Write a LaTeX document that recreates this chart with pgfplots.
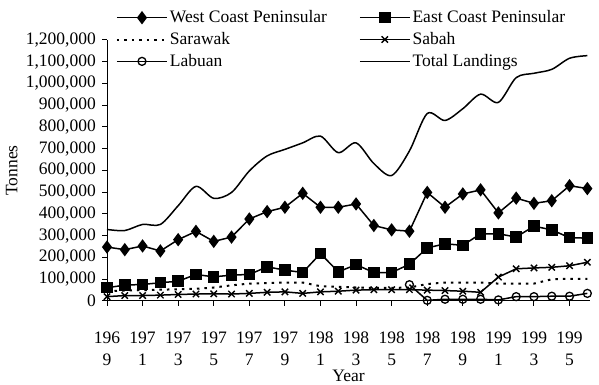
\documentclass[border=0pt]{standalone}
\usepackage{fontspec}
\setmainfont{Liberation Serif}
\usepackage{pgfplots}
\pgfplotsset{compat=1.18}
\begin{document}
\fontsize{18}{22}\selectfont
\begin{tikzpicture}
\path[use as bounding box] (0,0) rectangle (599pt,385pt);
\begin{axis}[
  at={(107pt,84pt)}, anchor=south west,
  scale only axis, width=483pt, height=261pt,
  xmin=1969, xmax=1996.15, ymin=0, ymax=1200000,
  axis x line*=bottom, axis y line*=left,
  axis line style={-, line width=1pt},
  tick align=outside, major tick length=5pt,
  tick style={black, line width=1pt},
  ytick={0,100000,200000,300000,400000,500000,600000,700000,800000,900000,1000000,1100000,1200000},
  scaled y ticks=false,
  yticklabel style={/pgf/number format/.cd, fixed, 1000 sep={,}, assume math mode=true},
  xtick={1969,1971,1973,1975,1977,1979,1981,1983,1985,1987,1989,1991,1993,1995},
  xticklabels={196\\9,197\\1,197\\3,197\\5,197\\7,197\\9,198\\1,198\\3,198\\5,198\\7,198\\9,199\\1,199\\3,199\\5},
  xticklabel style={align=center, anchor=north, inner sep=0pt, yshift=-26pt},
  every tick label/.append style={font=\fontsize{17.5}{22}\selectfont},
  xlabel={Year},
  xlabel style={at={(axis description cs:0.5,-0.288)}, anchor=center, inner sep=0pt, font=\fontsize{17.5}{22}\selectfont},
  ylabel={Tonnes},
  ylabel style={at={(axis description cs:-0.197,0.5)}, anchor=center, font=\fontsize{17.5}{22}\selectfont},
  legend columns=2,
  legend cell align=left,
  legend image code/.code={\draw[mark repeat=2,mark phase=2,#1] plot coordinates {(0pt,0pt) (25pt,0pt) (50pt,0pt)};},
  legend style={draw=none, fill=none, at={(axis description cs:0.012,1.13)}, anchor=north west,
    font=\fontsize{17.5}{21}\selectfont, row sep=3pt,
    /tikz/every even column/.append style={column sep=30pt}},
  clip=false,
]
\addplot[black, line width=1.5pt, mark=diamond*, mark size=5.5pt, mark options={solid}] coordinates {
(1969,248000)(1970,236000)(1971,253000)(1972,230000)(1973,282000)(1974,320000)(1975,274000)
(1976,294000)(1977,377000)(1978,411000)(1979,431000)(1980,495000)(1981,431000)(1982,431000)
(1983,446000)(1984,347000)(1985,327000)(1986,321000)(1987,499000)(1988,431000)(1989,492000)
(1990,511000)(1991,405000)(1992,473000)(1993,449000)(1994,461000)(1995,530000)(1996,517000)};
\addlegendentry{West Coast Peninsular}
\addplot[black, line width=1.5pt, mark=square*, mark size=5pt, mark options={solid}] coordinates {
(1969,61000)(1970,73000)(1971,76000)(1972,84000)(1973,91000)(1974,122000)(1975,111000)
(1976,119000)(1977,122000)(1978,157000)(1979,142000)(1980,131000)(1981,218000)(1982,134000)
(1983,167000)(1984,131000)(1985,131000)(1986,169000)(1987,244000)(1988,263000)(1989,256000)
(1990,309000)(1991,309000)(1992,294000)(1993,344000)(1994,327000)(1995,291000)(1996,289000)};
\addlegendentry{East Coast Peninsular}
\addplot[black, line width=2pt, dash pattern=on 2.5pt off 5pt] coordinates {
(1969,45000)(1970,48000)(1971,50000)(1972,52000)(1973,54000)(1974,56000)(1975,62000)
(1976,72000)(1977,80000)(1978,82000)(1979,85000)(1980,85000)(1981,68000)(1982,65000)
(1983,62000)(1984,60000)(1985,60000)(1986,62000)(1987,78000)(1988,85000)(1989,85000)
(1990,85000)(1991,80000)(1992,80000)(1993,80000)(1994,100000)(1995,102000)(1996,102000)};
\addlegendentry{Sarawak}
\addplot[black, line width=1.5pt, mark=x, mark size=4.5pt, mark options={solid, line width=1.4pt}] coordinates {
(1969,20000)(1970,25000)(1971,25000)(1972,27000)(1973,30000)(1974,32000)(1975,33000)
(1976,32000)(1977,35000)(1978,40000)(1979,42000)(1980,35000)(1981,42000)(1982,45000)
(1983,50000)(1984,52000)(1985,52000)(1986,52000)(1987,50000)(1988,48000)(1989,45000)
(1990,40000)(1991,110000)(1992,148000)(1993,152000)(1994,155000)(1995,162000)(1996,178000)};
\addlegendentry{Sabah}
\addplot[black, line width=1.5pt, mark=o, mark size=4pt, mark options={solid, line width=1.3pt}] coordinates {
(1986,75000)(1987,3000)(1988,8000)(1989,8000)(1990,8000)(1991,5000)(1992,20000)
(1993,20000)(1994,22000)(1995,22000)(1996,35000)};
\addlegendentry{Labuan}
\addplot[black, line width=1.5pt, smooth, no marks] coordinates {
(1969,329000)(1970,324000)(1971,352000)(1972,352000)(1973,438000)(1974,527000)(1975,472000)
(1976,499000)(1977,598000)(1978,667000)(1979,697000)(1980,727000)(1981,758000)(1982,682000)
(1983,727000)(1984,632000)(1985,577000)(1986,690000)(1987,862000)(1988,830000)(1989,884000)
(1990,951000)(1991,913000)(1992,1027000)(1993,1047000)(1994,1065000)(1995,1116000)(1996,1128000)};
\addlegendentry{Total Landings}
\end{axis}
\end{tikzpicture}
\end{document}
